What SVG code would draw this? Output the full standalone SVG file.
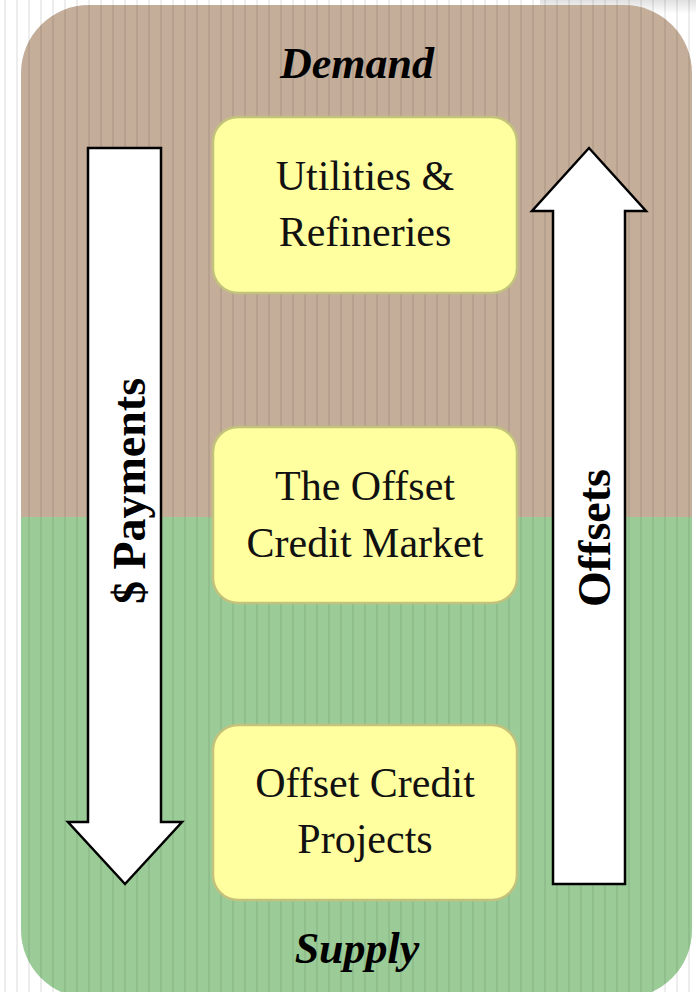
<svg xmlns="http://www.w3.org/2000/svg" width="696" height="992" viewBox="0 0 696 992">
  <style>
    .box { fill: #ffff9f; stroke: #c2c27c; stroke-width: 2.5; }
    .boxtext { font-family: "Liberation Serif", "Times New Roman", serif; font-size: 42px; fill: #111; text-anchor: middle; }
    .title { font-family: "Liberation Serif", "Times New Roman", serif; font-size: 44px; font-weight: bold; font-style: italic; fill: #000; text-anchor: middle; }
    .arrow { fill: #ffffff; stroke: #000; stroke-width: 2.5; stroke-linejoin: miter; }
    .arrowtext { font-family: "Liberation Serif", "Times New Roman", serif; font-size: 46px; font-weight: bold; fill: #000; text-anchor: middle; }
  </style>
  <defs>
    <pattern id="stripes" patternUnits="userSpaceOnUse" x="0" y="0" width="12" height="10">
      <rect x="4.25" y="0" width="1.5" height="10" fill="#000" fill-opacity="0.09"/>
    </pattern>
    <clipPath id="bgclip">
      <rect x="21" y="5" width="671" height="993" rx="68" ry="68"/>
    </clipPath>
    <linearGradient id="shadow" x1="0" y1="0" x2="0" y2="1">
      <stop offset="0" stop-color="#000" stop-opacity="0.12"/>
      <stop offset="1" stop-color="#000" stop-opacity="0"/>
    </linearGradient>
  </defs>

  <rect x="0" y="0" width="696" height="992" fill="#ffffff"/>
  <rect x="540" y="0" width="156" height="14" fill="url(#shadow)"/>

  <g id="background" clip-path="url(#bgclip)">
    <rect x="21" y="5" width="671" height="513" fill="#c4ad99"/>
    <rect x="21" y="517" width="671" height="481" fill="#9bcc97"/>
  </g>
  <rect x="0" y="0" width="696" height="992" fill="url(#stripes)"/>

  <g id="labels">
    <text class="title" x="357" y="78">Demand</text>
    <text class="title" x="357" y="963">Supply</text>
  </g>

  <g id="connectors">
    <g id="payments-arrow">
      <polygon class="arrow" points="88,148 161,148 161,822 182,822 125,884 68,822 88,822"/>
      <text class="arrowtext" transform="translate(145,491) rotate(-90)">$ Payments</text>
    </g>
    <g id="offsets-arrow">
      <polygon class="arrow" points="553,884 625,884 625,211 646,211 589,148 532,211 553,211"/>
      <text class="arrowtext" transform="translate(610,538) rotate(-90)">Offsets</text>
    </g>
  </g>

  <g id="node-utilities">
    <rect class="box" x="213" y="117" width="304" height="176" rx="25" ry="25"/>
    <text class="boxtext" x="365" y="190">Utilities &amp;</text>
    <text class="boxtext" x="365" y="246">Refineries</text>
  </g>

  <g id="node-market">
    <rect class="box" x="213" y="427" width="304" height="176" rx="25" ry="25"/>
    <text class="boxtext" x="365" y="500">The Offset</text>
    <text class="boxtext" x="365" y="557">Credit Market</text>
  </g>

  <g id="node-projects">
    <rect class="box" x="213" y="725" width="304" height="175" rx="25" ry="25"/>
    <text class="boxtext" x="365" y="797">Offset Credit</text>
    <text class="boxtext" x="365" y="853">Projects</text>
  </g>
</svg>
